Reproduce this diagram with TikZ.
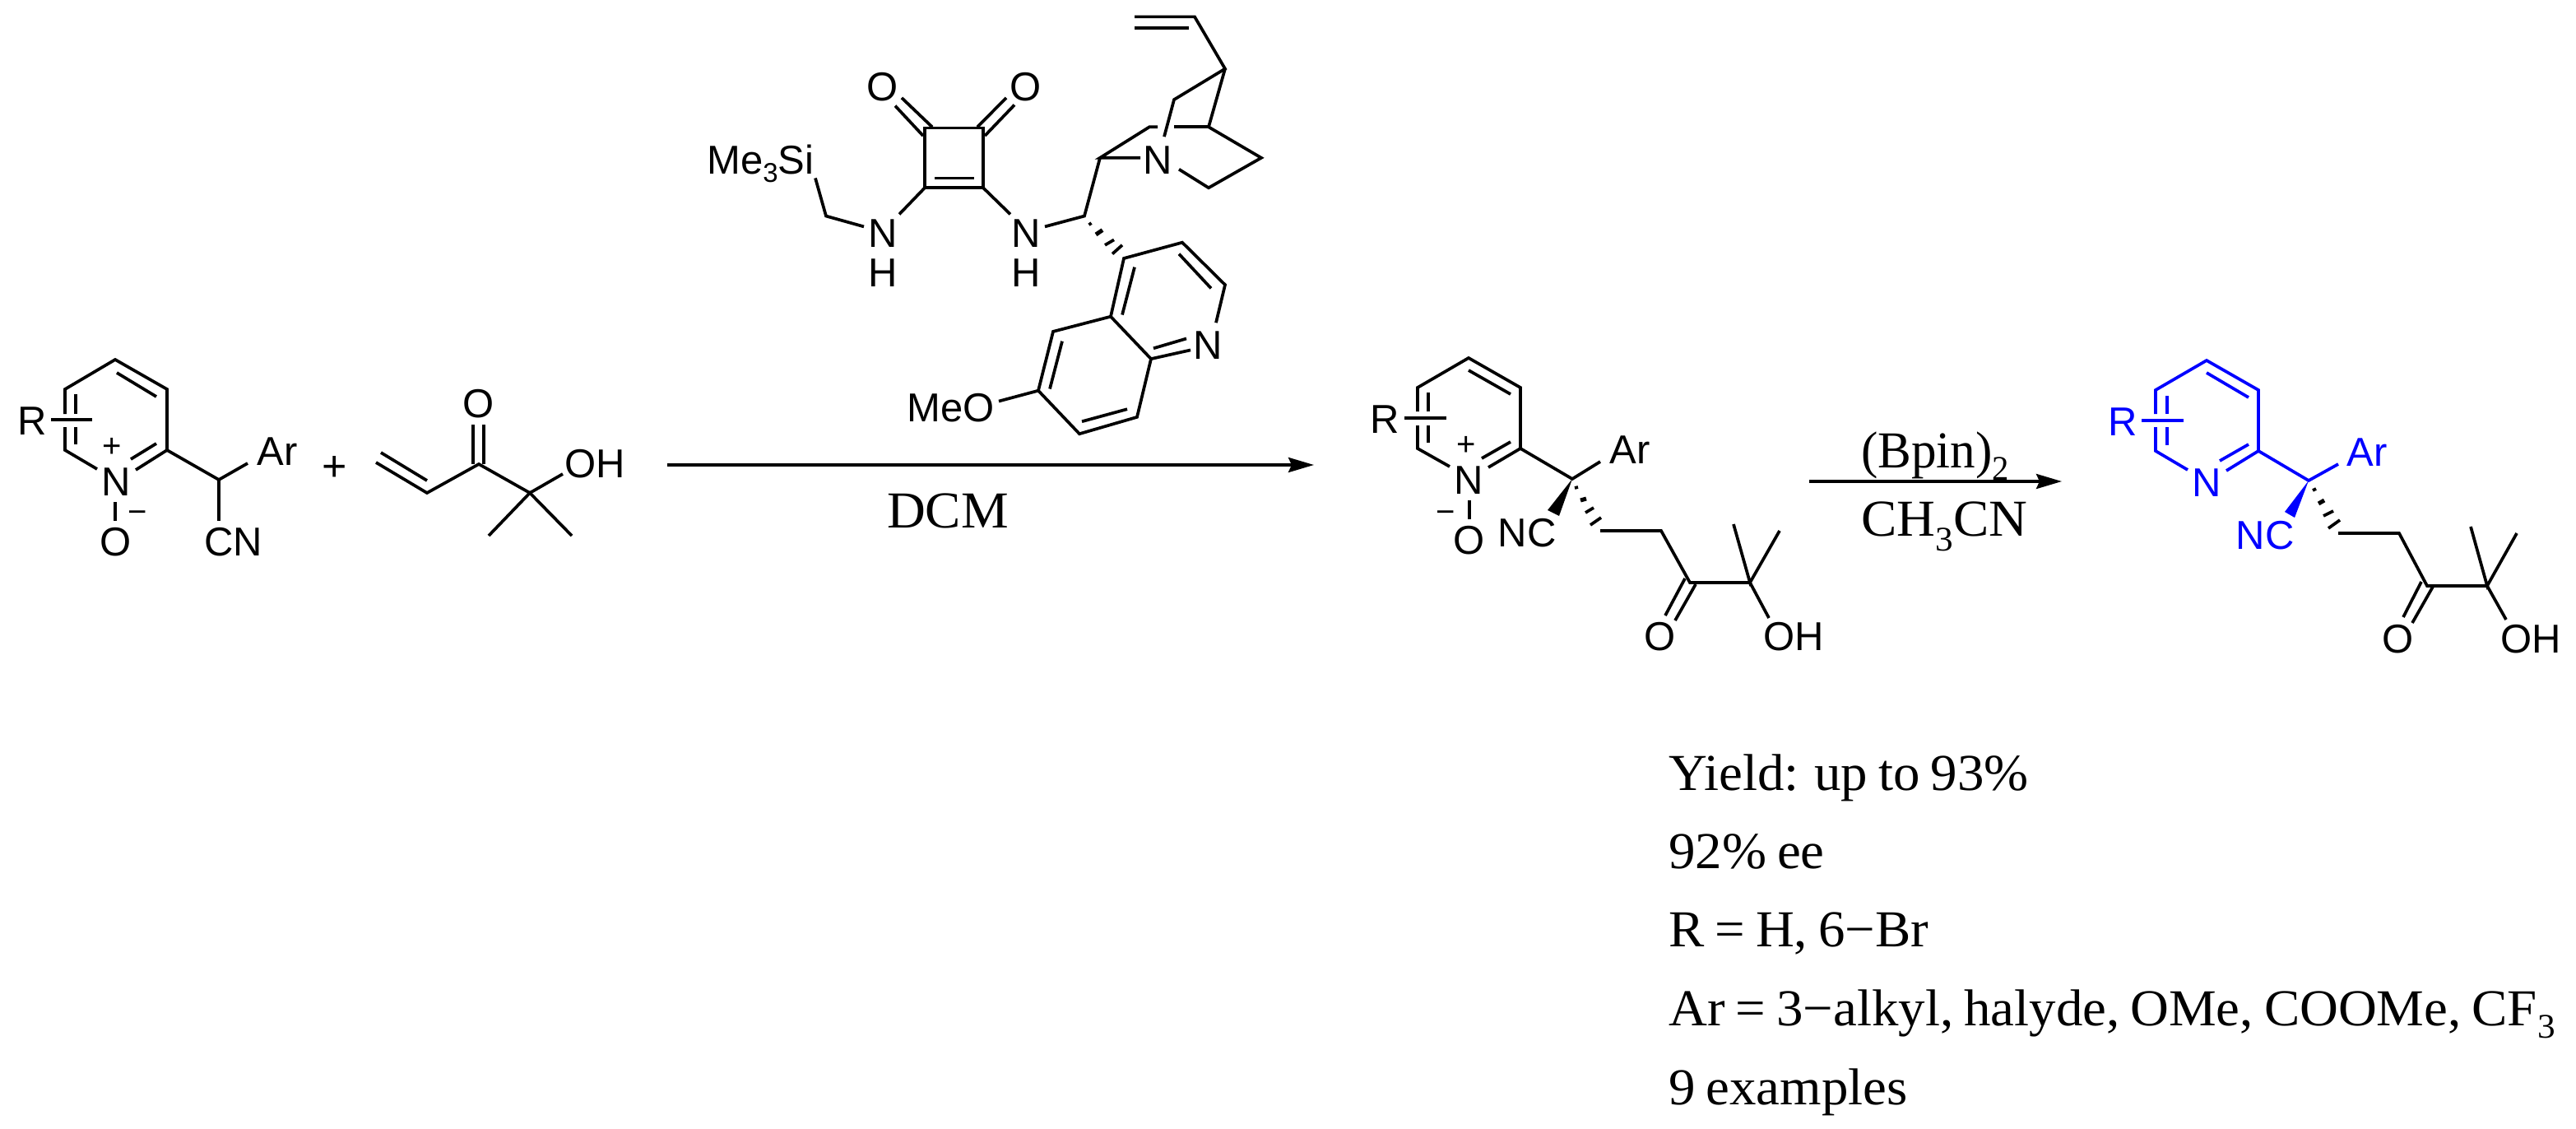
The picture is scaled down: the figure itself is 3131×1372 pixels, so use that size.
\documentclass[tikz,border=0pt]{standalone}
\usepackage{fontspec}
\usetikzlibrary{arrows.meta}
\setmainfont{Liberation Sans}
\newfontfamily\palat[FakeStretch=1.03,WordSpace=0.8]{Liberation Serif}
\newfontfamily\palatn[FakeStretch=0.97]{Liberation Serif}
\definecolor{pureblue}{RGB}{0,0,255}
\newcommand{\atomsub}[1]{\raisebox{-10pt}{\fontsize{33}{33}\selectfont #1}}
\newcommand{\txtsub}[2]{\raisebox{-#1pt}{\fontsize{42}{42}\selectfont #2}}
\tikzset{
  bond/.style={line width=3.7pt,line join=miter},
  hashmark/.style={line width=3.7pt},
  atom/.style={inner sep=0pt,font=\fontsize{49}{49}\selectfont},
  chargemark/.style={inner sep=0pt,font=\fontsize{40}{40}\selectfont},
  plusmark/.style={inner sep=0pt,font=\fontsize{52}{52}\selectfont},
  serifnote/.style={inner sep=0pt,anchor=base west,font=\fontsize{63}{63}\selectfont\palat},
  serifmid/.style={inner sep=0pt,anchor=base,font=\fontsize{63}{63}\selectfont\palat},
  rxn/.style={line width=3.7pt,-{Stealth[length=31pt,width=18pt,inset=4pt]}},
}
\begin{document}
\begin{tikzpicture}[x=1pt,y=-1pt]
\path[fill=white,use as bounding box] (0,0) rectangle (3131,1372);
% ---------- coordinates
\foreach \n/\x/\y in {
 r1/140/437,r2/203/473,r3/203/547,r4/79/547,r5/79/473,ri1/142/453,ri2/190/482,
 rl1/79/503,rl2/79/519,rli1/92/479,rli2/92/503,rli3/92/519,rli4/92/540,rs1/62/510,rs2/112/510,
 rn1/118/570,rn2/165/571,rn3/190/539,rn4/159/558,ro1/140/610,ro2/140/633,rc/266/583,ra/301/563,rcn/266/633,
 k1/457/562,k2/519/599,k3/463/550,k4/519/584,k5/582/564,k6/644/599,k7/684/576,k8/594/651,k9/695/651,
 ko1/575/516,ko2/575/564,ko3/588/516,ko4/588/564,
 a1s/811/565,a1e/1597/565,a2s/2199/585,a2e/2506/585,
 p1/1785/435,p2/1848/471,p3/1848/545,p4/1723/545,p5/1723/471,p6/1785/450,p7/1836/479,
 p8/1723/500,p9/1736/477,p10/1736/500,p11/1723/517,p12/1736/517,p13/1736/538,p14/1707/508,p15/1758/508,
 p16/1762/567,p17/1809/568,p18/1836/537,p19/1801/557,p20/1786/608,p21/1786/631,p22/1911/582,p23/1945/561,
 p24/1881/620,p25/1895/627,p26/1945/645,p27/2019/645,p28/2054/708,p29/2127/708,
 p30/2048/703,p31/2024/748,p32/2061/710,p33/2036/754,p34/2107/637,p35/2163/645,p36/2150/751,
 b1/2682/438,b2/2745/474,b3/2745/548,b4/2620/548,b5/2620/474,b6/2682/453,b7/2733/483,
 b8/2620/503,b9/2634/481,b10/2634/503,b11/2620/519,b12/2634/519,b13/2634/541,b14/2603/511,b15/2654/511,
 b16/2659/571,b17/2706/572,b18/2733/540,b19/2698/560,b22/2806/584,b23/2842/564,
 b24/2777/622,b25/2789/629,b26/2842/648,b27/2916/648,b28/2950/712,b29/3023/712,
 b30/2943/707,b31/2921/750,b32/2957/713,b33/2932/757,b34/3003/640,b35/3059/648,b36/3046/753
}{\coordinate (\n) at (\x,\y);}
% ---------- reactant pyridine N-oxide
\draw[bond] (rl1) -- (r5) -- (r1) -- (r2) -- (r3) -- (rn2);
\draw[bond] (rl2) -- (r4) -- (rn1);
\draw[bond] (ri1) -- (ri2);
\draw[bond] (rli1) -- (rli2);
\draw[bond] (rli3) -- (rli4);
\draw[bond] (rs1) -- (rs2);
\draw[bond] (rn3) -- (rn4);
\draw[bond] (ro1) -- (ro2);
\draw[bond] (r3) -- (rc) -- (ra);
\draw[bond] (rc) -- (rcn);
\node[atom] (rR) at (39,512) {R};
\node[atom] (rN) at (141,586) {N};
\node[chargemark] (rplus) at (136,544) {+};
\node[chargemark] (rminus) at (167,628) {−};
\node[atom] (rO) at (141,659) {O};
\node[atom] (rAr) at (337,549) {Ar};
\node[atom] (rCN) at (284,659) {CN};
\node[plusmark] (plus) at (407,569) {+};
% ---------- ketone
\draw[bond] (k1) -- (k2) -- (k5) -- (k6) -- (k7);
\draw[bond] (k3) -- (k4);
\draw[bond] (k8) -- (k6) -- (k9);
\draw[bond] (ko1) -- (ko2);
\draw[bond] (ko3) -- (ko4);
\node[atom] (kO) at (582,491) {O};
\node[atom] (kOH) at (723,564) {OH};
% ---------- arrows
\draw[rxn] (a1s) -- (a1e);
\node[serifmid] (dcm) at (1152,641) {DCM};
\draw[rxn] (a2s) -- (a2e);
\node[serifnote,font=\fontsize{63}{63}\selectfont\palatn] (bpin) at (2262,568) {(Bpin)\txtsub{15}{2}};
\node[serifnote] (mecn) at (2262,651) {CH\txtsub{18}{3}CN};
% ---------- catalyst (drawn on a slightly stretched vertical scale)
\begin{scope}[yscale=1.0714]
\foreach \n/\x/\y in {
 c1/1379/19,c2/1452/19,c3/1379/32,c4/1445/32,c5/1489/78,c6/1427/113,c7/1415/155,c8/1469/144,c9/1427/144,
 c10/1407/144,c11/1397/144,c12/1337/179,c13/1386/179,c14/1533/179,c15/1469/213,c16/1433/192,c17/1318/245,c18/1270/257,
 q1/1366/293,q2/1437/275,q3/1489/323,q4/1478/366,q5/1433/288,q6/1472/327,q7/1350/359,q8/1379/303,q9/1364/357,
 q10/1399/407,q11/1447/397,q12/1402/395,q13/1442/384,q14/1280/376,q15/1262/443,q16/1291/387,q17/1276/441,
 q18/1312/492,q19/1382/473,q20/1315/478,q21/1370/464,q22/1214/455,
 s1/1124/145,s2/1195/145,s3/1195/213,s4/1124/213,s5/1136/202,s6/1184/202,
 s7/1096/111,s8/1133/144,s9/1088/120,s10/1122/154,s11/1223/111,s12/1188/144,s13/1233/119,s14/1197/154,
 s15/1093/243,s16/1228/243,s17/1050/257,s18/1004/245,s19/991/202
}{\coordinate (\n) at (\x,\y);}
\draw[bond] (c1) -- (c2) -- (c5) -- (c6) -- (c7);
\draw[bond] (c3) -- (c4);
\draw[bond] (c5) -- (c8) -- (c14) -- (c15) -- (c16);
\draw[bond] (c8) -- (c9);
\draw[bond] (c10) -- (c11) -- (c12) -- (c13);
\draw[bond] (c12) -- (c17) -- (c18);
\draw[hashmark] (1323.5,255) -- (1326.5,253);
\draw[hashmark,line width=5pt] (1332,266) -- (1340,261);
\draw[hashmark] (1343,278) -- (1354,272);
\draw[hashmark] (1352,288) -- (1364,278);
\draw[bond] (q4) -- (q3) -- (q2) -- (q1) -- (q7) -- (q14) -- (q15) -- (q18) -- (q19) -- (q10) -- (q11);
\draw[bond] (q7) -- (q10);
\draw[bond] (q5) -- (q6);
\draw[bond] (q8) -- (q9);
\draw[bond] (q12) -- (q13);
\draw[bond] (q16) -- (q17);
\draw[bond] (q20) -- (q21);
\draw[bond] (q15) -- (q22);
\draw[bond] (s1) -- (s2) -- (s3) -- (s4) -- cycle;
\draw[bond] (s5) -- (s6);
\draw[bond] (s7) -- (s8);
\draw[bond] (s9) -- (s10);
\draw[bond] (s11) -- (s12);
\draw[bond] (s13) -- (s14);
\draw[bond] (s4) -- (s15);
\draw[bond] (s3) -- (s16);
\draw[bond] (s17) -- (s18) -- (s19);
\node[atom] (cO1) at (1073,99) {O};
\node[atom] (cO2) at (1247,99) {O};
\node[atom] (cN1) at (1073,265) {N};
\node[atom] (cH1) at (1073,310) {H};
\node[atom] (cN2) at (1247,265) {N};
\node[atom] (cH2) at (1247,310) {H};
\node[atom] (cN3) at (1407,182) {N};
\node[atom] (cN4) at (1468,392) {N};
\node[atom,anchor=base west] (tms) at (859,197) {Me\atomsub{3}Si};
\node[atom,anchor=east] (meo) at (1209,463) {MeO};
\end{scope}
% ---------- product 1
\draw[bond] (p8) -- (p5) -- (p1) -- (p2) -- (p3) -- (p17);
\draw[bond] (p11) -- (p4) -- (p16);
\draw[bond] (p6) -- (p7);
\draw[bond] (p9) -- (p10);
\draw[bond] (p12) -- (p13);
\draw[bond] (p14) -- (p15);
\draw[bond] (p18) -- (p19);
\draw[bond] (p20) -- (p21);
\draw[bond] (p3) -- (p22) -- (p23);
\fill (p22) -- (p24) -- (p25) -- cycle;
\draw[hashmark] (1914,593) -- (1918,592);
\draw[hashmark,line width=5pt] (1921,608) -- (1928,606);
\draw[hashmark] (1927,623) -- (1937,617);
\draw[hashmark] (1933,638) -- (1946,629);
\draw[bond] (p26) -- (p27) -- (p28) -- (p29) -- (p36);
\draw[bond] (p30) -- (p31);
\draw[bond] (p32) -- (p33);
\draw[bond] (p34) -- (p29) -- (p35);
\node[atom] (pR) at (1683,510) {R};
\node[atom] (pN) at (1785,584) {N};
\node[chargemark] (pplus) at (1782,542) {+};
\node[chargemark] (pminus) at (1757,628) {−};
\node[atom] (pO) at (1786,657) {O};
\node[atom] (pAr) at (1981,547) {Ar};
\node[atom] (pNC) at (1856,648) {NC};
\node[atom] (pO2) at (2018,774) {O};
\node[atom] (pOH) at (2180,774) {OH};
% ---------- product 2 (blue part)
\begin{scope}[pureblue]
\draw[bond] (b8) -- (b5) -- (b1) -- (b2) -- (b3) -- (b17);
\draw[bond] (b11) -- (b4) -- (b16);
\draw[bond] (b6) -- (b7);
\draw[bond] (b9) -- (b10);
\draw[bond] (b12) -- (b13);
\draw[bond] (b14) -- (b15);
\draw[bond] (b18) -- (b19);
\draw[bond] (b3) -- (b22) -- (b23);
\fill (b22) -- (b24) -- (b25) -- cycle;
\node[atom] (bR) at (2580,513) {R};
\node[atom] (bN) at (2682,587) {N};
\node[atom] (bAr) at (2877,550) {Ar};
\node[atom] (bNC) at (2753,651) {NC};
\end{scope}
\draw[hashmark] (2811,596) -- (2815,594);
\draw[hashmark,line width=5pt] (2818,612) -- (2825,608);
\draw[hashmark] (2824,627) -- (2836,621);
\draw[hashmark] (2830,642) -- (2844,632);
\draw[bond] (b26) -- (b27) -- (b28) -- (b29) -- (b36);
\draw[bond] (b30) -- (b31);
\draw[bond] (b32) -- (b33);
\draw[bond] (b34) -- (b29) -- (b35);
\node[atom] (bO2) at (2915,777) {O};
\node[atom] (bOH) at (3076,777) {OH};
% ---------- notes
\node[serifnote] (n1) at (2028,960) {Yield: up to 93\%};
\node[serifnote] (n2) at (2028,1055) {92\% ee};
\node[serifnote] (n3) at (2028,1150) {R = H, 6−Br};
\node[serifnote] (n4) at (2028,1246) {Ar = 3−alkyl, halyde, OMe, COOMe, CF\txtsub{15}{3}};
\node[serifnote] (n5) at (2028,1342) {9 examples};
\end{tikzpicture}
\end{document}
